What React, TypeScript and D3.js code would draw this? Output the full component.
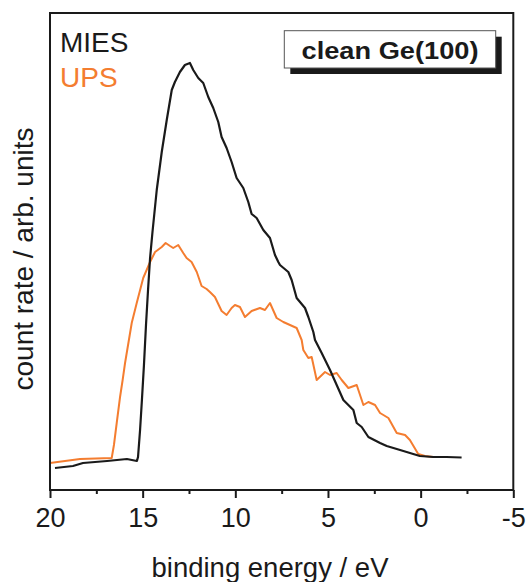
import React, { useEffect, useRef } from 'react';
import * as d3 from 'd3';

// MIES spectrum, binding energy (eV) vs count rate (arb. units)
const miesEnergy = [19.73, 18.76, 18.22, 16.92, 15.85, 15.31, 15.25, 15.14, 15.04, 14.93, 14.82, 14.71, 14.6, 14.47, 14.24, 13.97, 13.7, 13.43, 13.26, 12.99, 12.72, 12.45, 12.27, 12.0, 11.73, 11.46, 11.19, 10.92, 10.74, 10.47, 10.2, 9.93, 9.57, 9.3, 9.12, 8.85, 8.49, 8.13, 7.86, 7.68, 7.59, 7.14, 6.96, 6.69, 6.42, 6.24, 6.06, 5.79, 5.7, 5.34, 4.89, 4.53, 4.17, 3.63, 3.45, 3.18, 2.82, 2.19, 1.83, 1.11, 0.4, 0.04, -0.68, -1.4, -2.21];
const miesCounts = [22, 24, 27, 29, 31, 29, 33, 60, 90, 125, 165, 200, 232, 258, 300, 338, 370, 400, 408, 418, 425, 427, 420, 412, 407, 393, 382, 368, 353, 342, 328, 312, 302, 288, 276, 272, 260, 252, 235, 228, 225, 218, 210, 192, 186, 182, 173, 158, 150, 137, 120, 105, 90, 80, 67, 63, 53, 47, 44, 40, 36, 34, 33, 33, 32.5];

// UPS spectrum
const upsEnergy = [20.0, 18.38, 16.67, 16.55, 16.4, 16.22, 16.08, 15.95, 15.59, 15.32, 14.97, 14.6, 14.33, 13.97, 13.76, 13.52, 13.35, 13.08, 12.81, 12.63, 12.36, 12.08, 11.82, 11.55, 11.37, 11.1, 10.74, 10.47, 10.2, 10.02, 9.75, 9.48, 9.12, 8.67, 8.4, 8.13, 7.77, 7.41, 7.05, 6.69, 6.42, 6.33, 6.06, 5.88, 5.61, 5.16, 4.89, 4.53, 4.26, 3.9, 3.45, 3.09, 2.82, 2.46, 2.19, 1.74, 1.29, 0.84, 0.58, 0.13, -0.23, -0.68, -0.77];
const upsCounts = [27, 31, 32, 45, 67, 93, 110, 127, 167, 187, 212, 228, 238, 243, 247, 244, 242, 245, 237, 232, 228, 218, 204, 201, 198, 193, 179, 175, 182, 185, 183, 173, 179, 182, 180, 187, 172, 168, 165, 162, 150, 140, 132, 133, 110, 118, 115, 117, 110, 102, 105, 85, 88, 85, 77, 72, 57, 55, 50, 36, 34, 33, 33];

const majorTicks = [20, 15, 10, 5, 0, -5];
const minorTicks = [17.5, 12.5, 7.5, 2.5, -2.5];
const seriesNames = ['MIES', 'UPS'];
const seriesColors = ['#1a1a1a', '#f47d30'];
const boxLabel = 'clean Ge(100)';

const W = 529;
const H = 582;
const left = 50, right = 513.3, top = 13, bottom = 490;
const font = '"Liberation Sans", Arial, sans-serif';

export default function App() {
  const axisRef = useRef<SVGGElement>(null);

  const x = d3.scaleLinear().domain([20, -5]).range([left, right]);
  const y = d3.scaleLinear().domain([0, 477]).range([bottom, top]);

  useEffect(() => {
    const g = d3.select(axisRef.current);
    g.selectAll('*').remove();
    const major = g.append('g').call(
      d3.axisBottom(x).tickValues(majorTicks).tickSize(8).tickPadding(10).tickFormat(d => String(d))
    );
    major.select('.domain').remove();
    major.selectAll('line').attr('stroke', '#1a1a1a').attr('stroke-width', 2);
    major.selectAll('text')
      .attr('font-family', font)
      .attr('font-size', 27)
      .attr('fill', '#1a1a1a')
      .attr('dy', '0.71em');
    const minor = g.append('g').call(
      d3.axisBottom(x).tickValues(minorTicks).tickSize(4).tickFormat(() => '')
    );
    minor.select('.domain').remove();
    minor.selectAll('line').attr('stroke', '#1a1a1a').attr('stroke-width', 2);
  }, []);

  const line = d3.line<[number, number]>()
    .x(d => x(d[0]))
    .y(d => y(d[1]));

  const mies = miesEnergy.map((e, i) => [e, miesCounts[i]] as [number, number]);
  const ups = upsEnergy.map((e, i) => [e, upsCounts[i]] as [number, number]);

  return (
    <svg width={W} height={H} style={{ position: 'absolute', left: 0, top: 0, background: '#fff' }}>
      <path d={line(ups) || ''} fill="none" stroke={seriesColors[1]} strokeWidth={2} strokeLinejoin="round" />
      <path d={line(mies) || ''} fill="none" stroke={seriesColors[0]} strokeWidth={2.2} strokeLinejoin="round" />

      <rect x={left} y={top} width={right - left} height={bottom - top} fill="none" stroke="#1a1a1a" strokeWidth={2} />
      <g ref={axisRef} transform={`translate(0,${bottom})`} />

      <text x={60} y={51.5} fontFamily={font} fontSize={28} fill={seriesColors[0]}>{seriesNames[0]}</text>
      <text x={60} y={87} fontFamily={font} fontSize={28} fill={seriesColors[1]}>{seriesNames[1]}</text>

      <rect x={290.3} y={36.7} width={211.4} height={37.3} fill="#1a1a1a" />
      <rect x={284.3} y={30.7} width={211.4} height={37.3} fill="#fff" stroke="#555" strokeWidth={1} />
      <text x={390} y={59.3} textAnchor="middle" fontFamily={font} fontWeight="bold" fontSize={23}
        textLength={177} lengthAdjust="spacingAndGlyphs" fill="#1a1a1a">{boxLabel}</text>

      <text x={270} y={576.5} textAnchor="middle" fontFamily={font} fontSize={27.5} fill="#1a1a1a">binding energy / eV</text>
      <text transform={`translate(33,259) rotate(-90)`} textAnchor="middle" fontFamily={font} fontSize={28} fill="#1a1a1a">count rate / arb. units</text>
    </svg>
  );
}
